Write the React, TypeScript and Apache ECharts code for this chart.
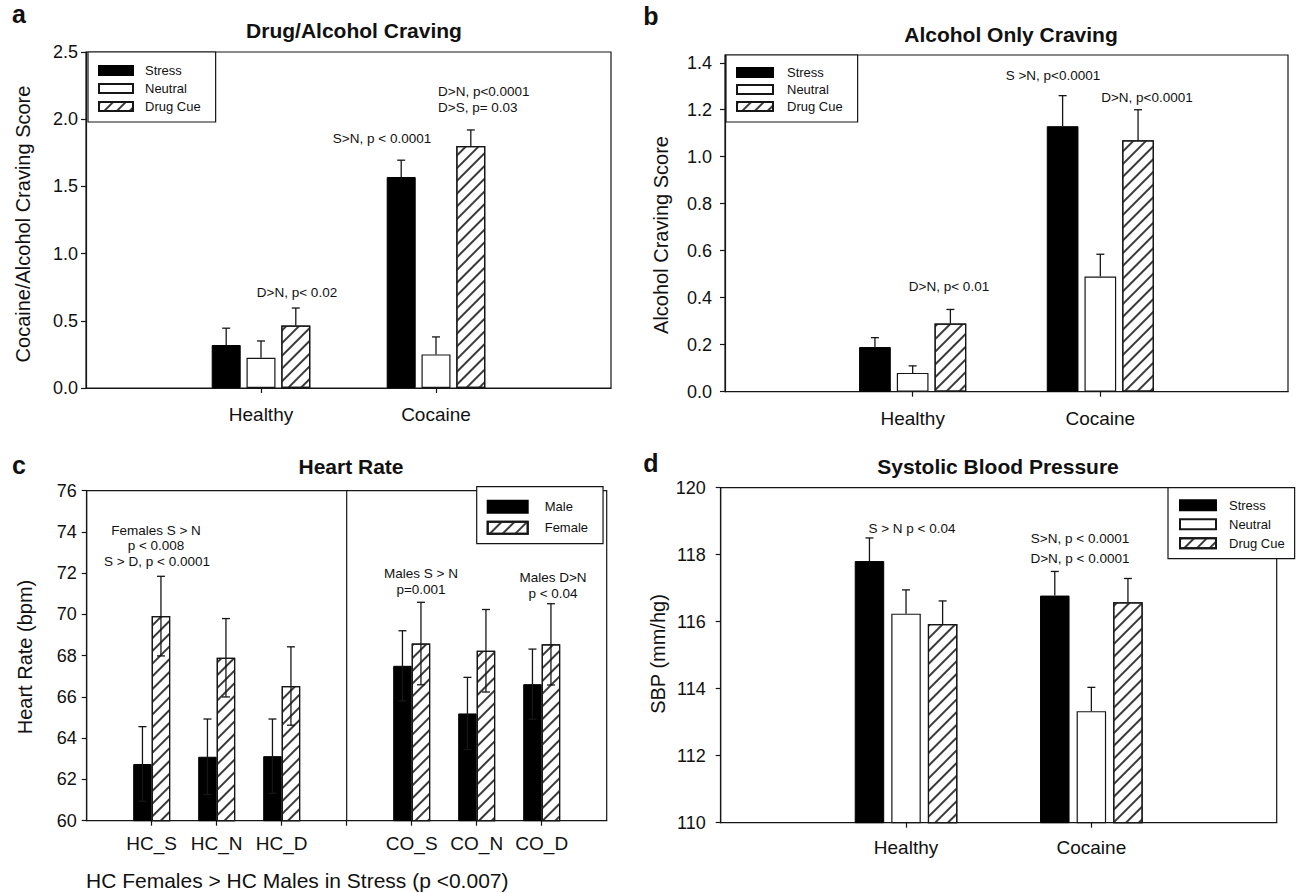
import React, { useEffect, useRef } from 'react';
import * as echarts from 'echarts';

const FONT = "'Liberation Sans', Arial, Helvetica, sans-serif";

// ---------- shared categories ----------
const groupCats = ['', 'Healthy', 'Cocaine', ' '];
const groupNames = ['Healthy', 'Cocaine'];
const conditions = ['Stress', 'Neutral', 'Drug Cue'];

// ---------- panel a: Drug/Alcohol Craving ----------
const cravStress = [0.32, 1.57];
const cravStressErr = [0.125, 0.125];
const cravNeutral = [0.225, 0.25];
const cravNeutralErr = [0.125, 0.13];
const cravDrug = [0.465, 1.8];
const cravDrugErr = [0.13, 0.12];

// ---------- panel b: Alcohol Only Craving ----------
const alcStress = [0.19, 1.13];
const alcStressErr = [0.04, 0.13];
const alcNeutral = [0.08, 0.49];
const alcNeutralErr = [0.03, 0.095];
const alcDrug = [0.29, 1.07];
const alcDrugErr = [0.06, 0.13];
const alcTicks = [0, 0.2, 0.4, 0.6, 0.8, 1.0, 1.2, 1.4];

// ---------- panel c: Heart Rate ----------
const hrCats = ['', 'HC_S', 'HC_N', 'HC_D', ' ', 'CO_S', 'CO_N', 'CO_D', '  '];
const hrGroups = ['HC_S', 'HC_N', 'HC_D', 'CO_S', 'CO_N', 'CO_D'];
const hrMale = [62.75, 63.1, 63.13, 67.51, 65.2, 66.62];
const hrMaleErr = [1.81, 1.83, 1.8, 1.7, 1.75, 1.7];
const hrFemale = [69.92, 67.9, 66.53, 68.59, 68.24, 68.55];
const hrFemaleErr = [1.93, 1.9, 1.9, 2.0, 2.0, 1.97];
const hrDividerIndex = 4;
const sexes = ['Male', 'Female'];

// ---------- panel d: Systolic Blood Pressure ----------
const sbpStress = [117.81, 116.78];
const sbpStressErr = [0.69, 0.72];
const sbpNeutral = [116.24, 113.33];
const sbpNeutralErr = [0.71, 0.71];
const sbpDrug = [115.93, 116.58];
const sbpDrugErr = [0.69, 0.71];

// ---------- texts ----------
const panelLetters = ['a', 'b', 'c', 'd'];
const panelTitles = ['Drug/Alcohol Craving', 'Alcohol Only Craving', 'Heart Rate', 'Systolic Blood Pressure'];
const yTitles = ['Cocaine/Alcohol Craving Score', 'Alcohol Craving Score', 'Heart Rate (bpm)', 'SBP (mm/hg)'];
const footnote = 'HC Females > HC Males in Stress (p <0.007)';
const notesA = ['D>N, p< 0.02', 'S>N, p < 0.0001', 'D>N, p<0.0001', 'D>S, p= 0.03'];
const notesB = ['D>N, p< 0.01', 'S >N, p<0.0001', 'D>N, p<0.0001'];
const notesC = ['Females S > N', 'p < 0.008', 'S > D, p < 0.0001', 'Males S > N', 'p=0.001', 'Males D>N', 'p < 0.04'];
const notesD = ['S > N p < 0.04', 'S>N, p < 0.0001', 'D>N, p < 0.0001'];

const INK = '#161616';

const hatch = {
  symbol: 'rect',
  symbolSize: 1,
  color: '#3a3a3a',
  dashArrayX: [1, 0],
  dashArrayY: [1.1, 6.4],
  rotation: -Math.PI / 4,
};

const styleStress = { color: '#000', borderColor: '#000', borderWidth: 1 };
const styleNeutral = { color: '#fff', borderColor: INK, borderWidth: 1.2 };
const styleDrug = { color: '#fff', borderColor: INK, borderWidth: 1.2, decal: hatch };

function barSeries(name: string, idx: number, cats: string[], vals: number[], style: any, width: number, gapPct: number) {
  return {
    type: 'bar',
    name,
    xAxisIndex: idx,
    yAxisIndex: idx,
    data: cats.map((c, i) => [c, vals[i]]),
    barWidth: width,
    barGap: gapPct + '%',
    itemStyle: style,
    emphasis: { disabled: true },
    z: 2,
  };
}

function errSeries(idx: number, cats: string[], vals: number[], errs: number[], offset: number, twoSided: boolean, cap: number) {
  return {
    type: 'custom',
    xAxisIndex: idx,
    yAxisIndex: idx,
    silent: true,
    z: 5,
    data: cats.map((c, i) => [c, vals[i], errs[i]]),
    renderItem: (_p: any, api: any) => {
      const x = api.value(0);
      const v = api.value(1);
      const e = api.value(2);
      const top = api.coord([x, v + e]);
      const bot = api.coord([x, twoSided ? v - e : v]);
      const cx = top[0] + offset;
      const st = { stroke: INK, lineWidth: 1.3 };
      const children: any[] = [
        { type: 'line', shape: { x1: cx, y1: top[1], x2: cx, y2: bot[1] }, style: st },
        { type: 'line', shape: { x1: cx - cap / 2, y1: top[1], x2: cx + cap / 2, y2: top[1] }, style: st },
      ];
      if (twoSided) {
        children.push({ type: 'line', shape: { x1: cx - cap / 2, y1: bot[1], x2: cx + cap / 2, y2: bot[1] }, style: st });
      }
      return { type: 'group', children };
    },
  };
}

function xAxis(idx: number, cats: string[], margin: number, extraTicks: number[] = []) {
  return {
    type: 'category',
    gridIndex: idx,
    data: cats,
    boundaryGap: false,
    axisLine: { show: true, lineStyle: { color: INK, width: 1.2 } },
    axisTick: {
      show: true,
      length: 5,
      lineStyle: { color: INK, width: 1.2 },
      interval: (i: number, v: string) => String(v).trim() !== '' || extraTicks.includes(i),
    },
    axisLabel: { interval: 0, margin, fontSize: 19, color: '#111', fontFamily: FONT },
    splitLine: { show: false },
  };
}

function yAxis(idx: number, min: number, max: number, interval: number, margin: number, digits: number, extra: any = {}) {
  return {
    type: 'value',
    gridIndex: idx,
    min,
    max,
    interval,
    axisLine: { show: true, lineStyle: { color: INK, width: 1.2 } },
    axisTick: { show: true, length: 5, lineStyle: { color: INK, width: 1.2 }, ...(extra.axisTick || {}) },
    axisLabel: {
      margin,
      fontSize: 18,
      color: '#111',
      fontFamily: FONT,
      formatter: (v: number) => v.toFixed(digits),
      ...(extra.axisLabel || {}),
    },
    splitLine: { show: false },
  };
}

function legend(data: string[], left: number, top: number, iw: number, ih: number, gap: number, padding: number[], textPad: number) {
  return {
    data,
    left,
    top,
    orient: 'vertical',
    icon: 'rect',
    itemWidth: iw,
    itemHeight: ih,
    itemGap: gap,
    padding,
    borderColor: INK,
    borderWidth: 1.2,
    backgroundColor: '#fff',
    selectedMode: false,
    textStyle: { fontSize: 13, color: '#111', fontFamily: FONT, padding: [0, 0, 0, textPad] },
    z: 10,
  };
}

function text(t: string, x: number, y: number, size: number, opts: any = {}) {
  return {
    type: 'text',
    x,
    y,
    rotation: opts.rotation || 0,
    z: 100,
    silent: true,
    style: {
      text: t,
      fontSize: size,
      fontFamily: FONT,
      fontWeight: opts.bold ? 'bold' : 'normal',
      fill: '#111',
      align: opts.align || 'center',
      verticalAlign: 'middle',
    },
  };
}

function offsets(n: number, width: number, gapPct: number) {
  const step = width * (1 + gapPct / 100);
  return Array.from({ length: n }, (_, i) => (i - (n - 1) / 2) * step);
}

export default function App() {
  const ref = useRef<HTMLDivElement>(null);

  useEffect(() => {
    if (!ref.current) return;
    const chart = echarts.init(ref.current, null, { renderer: 'svg' });

    const aW = 29, aG = 20;
    const bW = 31.7, bG = 19;
    const cW = 18.5, cG = 0;
    const dW = 29.5, dG = 24;
    const oa = offsets(3, aW, aG);
    const ob = offsets(3, bW, bG);
    const oc = offsets(2, cW, cG);
    const od = offsets(3, dW, dG);
    const cap = 8;

    const series: any[] = [
      // panel a
      barSeries('Stress', 0, groupNames, cravStress, styleStress, aW, aG),
      barSeries('Neutral', 0, groupNames, cravNeutral, styleNeutral, aW, aG),
      barSeries('Drug Cue', 0, groupNames, cravDrug, styleDrug, aW, aG),
      errSeries(0, groupNames, cravStress, cravStressErr, oa[0], false, cap),
      errSeries(0, groupNames, cravNeutral, cravNeutralErr, oa[1], false, cap),
      errSeries(0, groupNames, cravDrug, cravDrugErr, oa[2], false, cap),
      // panel b
      barSeries('Stress', 1, groupNames, alcStress, styleStress, bW, bG),
      barSeries('Neutral', 1, groupNames, alcNeutral, styleNeutral, bW, bG),
      barSeries('Drug Cue', 1, groupNames, alcDrug, styleDrug, bW, bG),
      errSeries(1, groupNames, alcStress, alcStressErr, ob[0], false, cap),
      errSeries(1, groupNames, alcNeutral, alcNeutralErr, ob[1], false, cap),
      errSeries(1, groupNames, alcDrug, alcDrugErr, ob[2], false, cap),
      // panel c
      barSeries('Male', 2, hrGroups, hrMale, styleStress, cW, cG),
      barSeries('Female', 2, hrGroups, hrFemale, styleDrug, cW, cG),
      errSeries(2, hrGroups, hrMale, hrMaleErr, oc[0], true, cap),
      errSeries(2, hrGroups, hrFemale, hrFemaleErr, oc[1], true, cap),
      {
        type: 'custom',
        xAxisIndex: 2,
        yAxisIndex: 2,
        silent: true,
        z: 4,
        data: [[hrDividerIndex, 60, 76]],
        renderItem: (_p: any, api: any) => {
          const a = api.coord([api.value(0), api.value(1)]);
          const b = api.coord([api.value(0), api.value(2)]);
          return { type: 'line', shape: { x1: a[0], y1: a[1], x2: b[0], y2: b[1] }, style: { stroke: INK, lineWidth: 1.2 } };
        },
      },
      // panel d
      barSeries('Stress', 3, groupNames, sbpStress, styleStress, dW, dG),
      barSeries('Neutral', 3, groupNames, sbpNeutral, styleNeutral, dW, dG),
      barSeries('Drug Cue', 3, groupNames, sbpDrug, styleDrug, dW, dG),
      errSeries(3, groupNames, sbpStress, sbpStressErr, od[0], false, cap),
      errSeries(3, groupNames, sbpNeutral, sbpNeutralErr, od[1], false, cap),
      errSeries(3, groupNames, sbpDrug, sbpDrugErr, od[2], false, cap),
    ];

    const graphics: any[] = [
      // panel letters
      text(panelLetters[0], 19, 14, 25, { bold: true }),
      text(panelLetters[1], 651, 16, 25, { bold: true }),
      text(panelLetters[2], 19, 465, 25, { bold: true }),
      text(panelLetters[3], 651, 463, 25, { bold: true }),
      // titles
      text(panelTitles[0], 354, 30, 21, { bold: true }),
      text(panelTitles[1], 1011, 34, 21, { bold: true }),
      text(panelTitles[2], 351, 466, 21, { bold: true }),
      text(panelTitles[3], 998, 466, 21, { bold: true }),
      // y titles
      text(yTitles[0], 23, 224, 20, { rotation: Math.PI / 2 }),
      text(yTitles[1], 661, 235, 20, { rotation: Math.PI / 2 }),
      text(yTitles[2], 25, 657, 20, { rotation: Math.PI / 2 }),
      text(yTitles[3], 658, 654, 20, { rotation: Math.PI / 2 }),
      // footnote
      text(footnote, 86, 880, 21, { align: 'left' }),
      // panel a notes
      text(notesA[0], 297, 292, 13.5),
      text(notesA[1], 382, 138, 13.5),
      text(notesA[2], 438, 91, 13.5, { align: 'left' }),
      text(notesA[3], 438, 107, 13.5, { align: 'left' }),
      // panel b notes
      text(notesB[0], 949, 286, 13.5),
      text(notesB[1], 1053, 75, 13.5),
      text(notesB[2], 1147, 97, 13.5),
      // panel c notes
      text(notesC[0], 156, 530, 13.5),
      text(notesC[1], 156, 545.5, 13.5),
      text(notesC[2], 157, 561, 13.5),
      text(notesC[3], 421, 573, 13.5),
      text(notesC[4], 421, 589, 13.5),
      text(notesC[5], 553, 577, 13.5),
      text(notesC[6], 553, 593, 13.5),
      // panel d notes
      text(notesD[0], 912, 528, 13.5),
      text(notesD[1], 1080, 538, 13.5),
      text(notesD[2], 1080, 558, 13.5),
    ];

    const gridBase = { show: true, borderColor: INK, borderWidth: 1.2, backgroundColor: 'transparent', containLabel: false };

    chart.setOption({
      animation: false,
      backgroundColor: '#fff',
      grid: [
        { ...gridBase, left: 86, top: 52, width: 525, height: 336 },
        { ...gridBase, left: 725, top: 55, width: 563, height: 336.7 },
        { ...gridBase, left: 86.7, top: 490.7, width: 520, height: 330 },
        { ...gridBase, left: 720.7, top: 487.7, width: 556, height: 335 },
      ],
      xAxis: [
        xAxis(0, groupCats, 17),
        xAxis(1, groupCats, 17),
        xAxis(2, hrCats, 13, [hrDividerIndex]),
        xAxis(3, groupCats, 15),
      ],
      yAxis: [
        yAxis(0, 0, 2.5, 0.5, 8, 1),
        yAxis(1, 0, 1.433, 0.2, 13, 1, {
          axisTick: { customValues: alcTicks },
          axisLabel: { customValues: alcTicks },
        }),
        yAxis(2, 60, 76, 2, 10, 0),
        yAxis(3, 110, 120, 2, 15, 0),
      ],
      legend: [
        legend(conditions, 88, 52, 34, 9, 5, [12, 15, 9, 10], 7),
        legend(conditions, 726, 55, 36, 9, 4, [11, 15, 9, 10], 9),
        legend(sexes, 476.7, 486.7, 40, 12, 7, [13, 15, 9, 10], 12),
        legend(conditions, 1168, 487.7, 36, 10, 6, [11, 10, 9, 11], 8),
      ],
      series,
      graphic: graphics,
    });

    return () => chart.dispose();
  }, []);

  return (
    <div
      ref={ref}
      style={{ position: 'absolute', left: 0, top: 0, width: 1309, height: 893, background: '#fff' }}
    />
  );
}
